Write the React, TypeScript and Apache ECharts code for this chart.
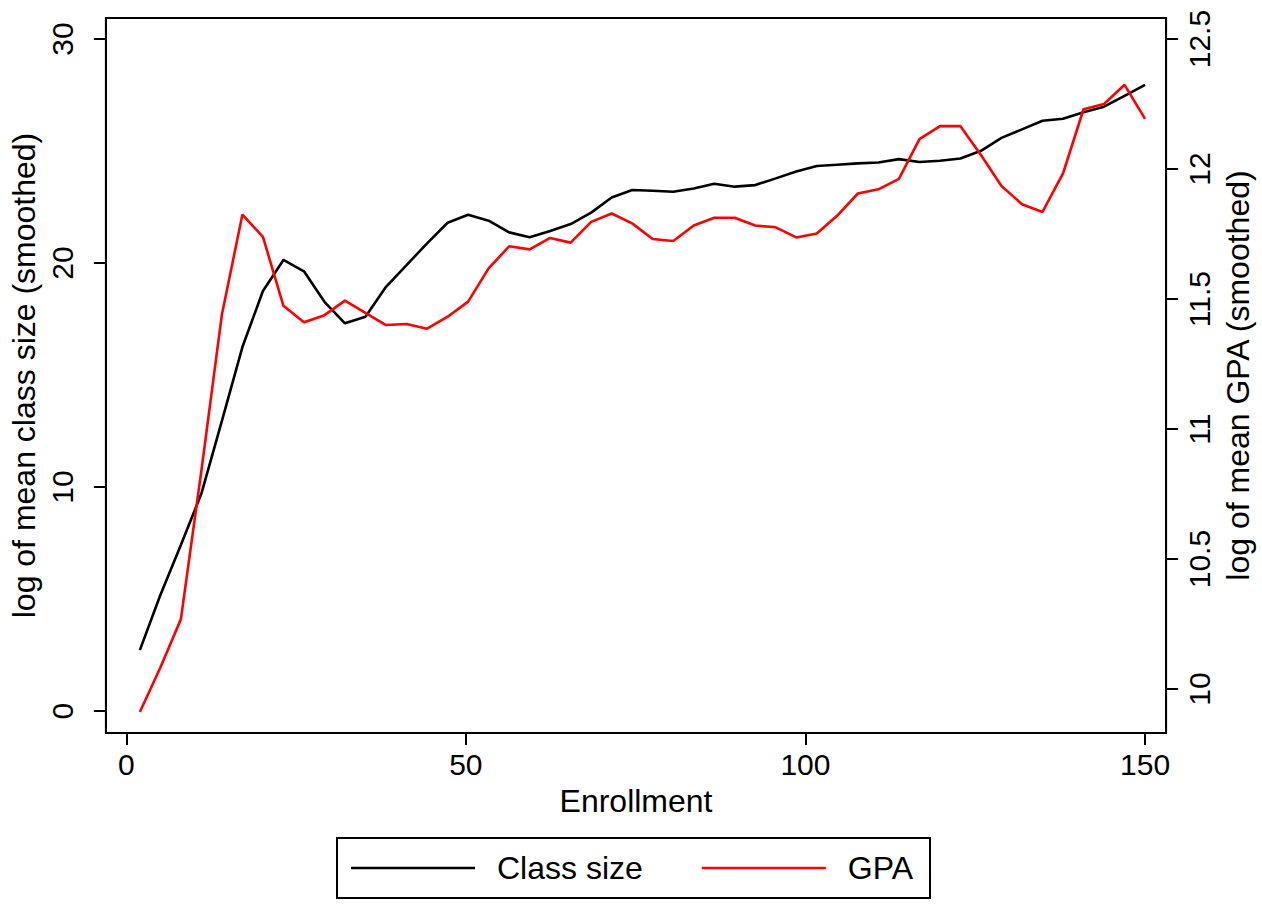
import React, { useEffect, useRef } from "react";
import * as echarts from "echarts";

const enrollment = [2, 5.02, 8.04, 11.06, 14.08, 17.1, 20.12, 23.14, 26.16, 29.18, 32.2, 35.22, 38.24, 41.27, 44.29, 47.31, 50.33, 53.35, 56.37, 59.39, 62.41, 65.43, 68.45, 71.47, 74.49, 77.51, 80.53, 83.55, 86.57, 89.59, 92.61, 95.63, 98.65, 101.67, 104.69, 107.71, 110.73, 113.76, 116.78, 119.8, 122.82, 125.84, 128.86, 131.88, 134.9, 137.92, 140.94, 143.96, 146.98, 150];

const classSize = [2.72, 5.18, 7.41, 9.71, 12.95, 16.25, 18.75, 20.14, 19.63, 18.27, 17.31, 17.6, 18.94, 19.91, 20.88, 21.8, 22.16, 21.89, 21.37, 21.15, 21.43, 21.74, 22.25, 22.93, 23.26, 23.23, 23.18, 23.33, 23.54, 23.41, 23.48, 23.78, 24.09, 24.33, 24.39, 24.45, 24.49, 24.64, 24.51, 24.57, 24.67, 25.01, 25.59, 25.97, 26.35, 26.44, 26.73, 26.98, 27.46, 27.95];

const gpa = [9.912, 10.083, 10.269, 10.84, 11.441, 11.825, 11.739, 11.474, 11.411, 11.438, 11.494, 11.447, 11.4, 11.404, 11.386, 11.432, 11.49, 11.618, 11.703, 11.691, 11.735, 11.717, 11.797, 11.829, 11.791, 11.731, 11.723, 11.783, 11.813, 11.813, 11.783, 11.776, 11.737, 11.752, 11.821, 11.906, 11.922, 11.962, 12.115, 12.165, 12.165, 12.054, 11.935, 11.865, 11.835, 11.983, 12.23, 12.25, 12.324, 12.193];

const xTicks = [0, 50, 100, 150];
const leftTicks = [0, 10, 20, 30];
const rightTicks = [10, 10.5, 11, 11.5, 12, 12.5];
const seriesNames = ["Class size", "GPA"];

const FONT = "'Liberation Sans', Arial, Helvetica, sans-serif";

export default function App() {
  const ref = useRef<HTMLDivElement>(null);

  useEffect(() => {
    if (!ref.current) return;
    const chart = echarts.init(ref.current, null, { renderer: "svg" });
    const axisCommon = {
      axisLine: { show: true, onZero: false, lineStyle: { color: "#000", width: 2 } },
      splitLine: { show: false },
    };
    const option: any = {
      animation: false,
      backgroundColor: "#fff",
      textStyle: { fontFamily: FONT },
      grid: {
        left: 103,
        right: 95,
        top: 18,
        bottom: 171,
        show: true,
        borderColor: "#000",
        borderWidth: 2,
        backgroundColor: "transparent",
      },
      legend: {
        data: seriesNames,
        left: 337,
        top: 838,
        orient: "horizontal",
        icon: "rect",
        itemWidth: 124,
        itemHeight: 2.6,
        itemGap: 59,
        padding: [14, 17, 14, 14],
        borderColor: "#000",
        borderWidth: 2,
        textStyle: { fontSize: 32, color: "#000", fontFamily: FONT, padding: [0, 0, 0, 17] },
      },
      xAxis: {
        type: "value",
        min: -3,
        max: 153.1,
        name: "Enrollment",
        nameLocation: "middle",
        nameGap: 52,
        nameTextStyle: { fontSize: 32, color: "#000", fontFamily: FONT },
        ...axisCommon,
        axisTick: { show: true, length: 12, lineStyle: { color: "#000", width: 2 }, customValues: xTicks },
        axisLabel: { customValues: xTicks, fontSize: 30, color: "#000", margin: 16, fontFamily: FONT },
      },
      yAxis: [
        {
          type: "value",
          position: "left",
          min: -0.98,
          max: 30.94,
          name: "log of mean class size (smoothed)",
          nameLocation: "middle",
          nameRotate: 90,
          nameGap: 59,
          nameTextStyle: { fontSize: 32, color: "#000", fontFamily: FONT },
          ...axisCommon,
          axisTick: { show: true, length: 12, lineStyle: { color: "#000", width: 2 }, customValues: leftTicks },
          axisLabel: { customValues: leftTicks, fontSize: 30, color: "#000", margin: 28, rotate: 90, fontFamily: FONT },
        },
        {
          type: "value",
          position: "right",
          min: 9.831,
          max: 12.581,
          name: "log of mean GPA (smoothed)",
          nameLocation: "middle",
          nameRotate: 90,
          nameGap: 55,
          nameTextStyle: { fontSize: 32, color: "#000", fontFamily: FONT },
          ...axisCommon,
          axisTick: { show: true, length: 12, lineStyle: { color: "#000", width: 2 }, customValues: rightTicks },
          axisLabel: { customValues: rightTicks, fontSize: 30, color: "#000", margin: 18, rotate: 90, fontFamily: FONT },
        },
      ],
      series: [
        {
          name: seriesNames[0],
          type: "line",
          yAxisIndex: 0,
          symbol: "none",
          lineStyle: { color: "#000", width: 2.6 },
          itemStyle: { color: "#000" },
          data: enrollment.map((x, i) => [x, classSize[i]]),
        },
        {
          name: seriesNames[1],
          type: "line",
          yAxisIndex: 1,
          symbol: "none",
          lineStyle: { color: "#ff0000", width: 2.6 },
          itemStyle: { color: "#ff0000" },
          data: enrollment.map((x, i) => [x, gpa[i]]),
        },
      ],
    };
    chart.setOption(option);
    return () => chart.dispose();
  }, []);

  return (
    <div
      ref={ref}
      style={{ position: "absolute", left: 0, top: 0, width: 1262, height: 904, background: "#fff" }}
    />
  );
}
